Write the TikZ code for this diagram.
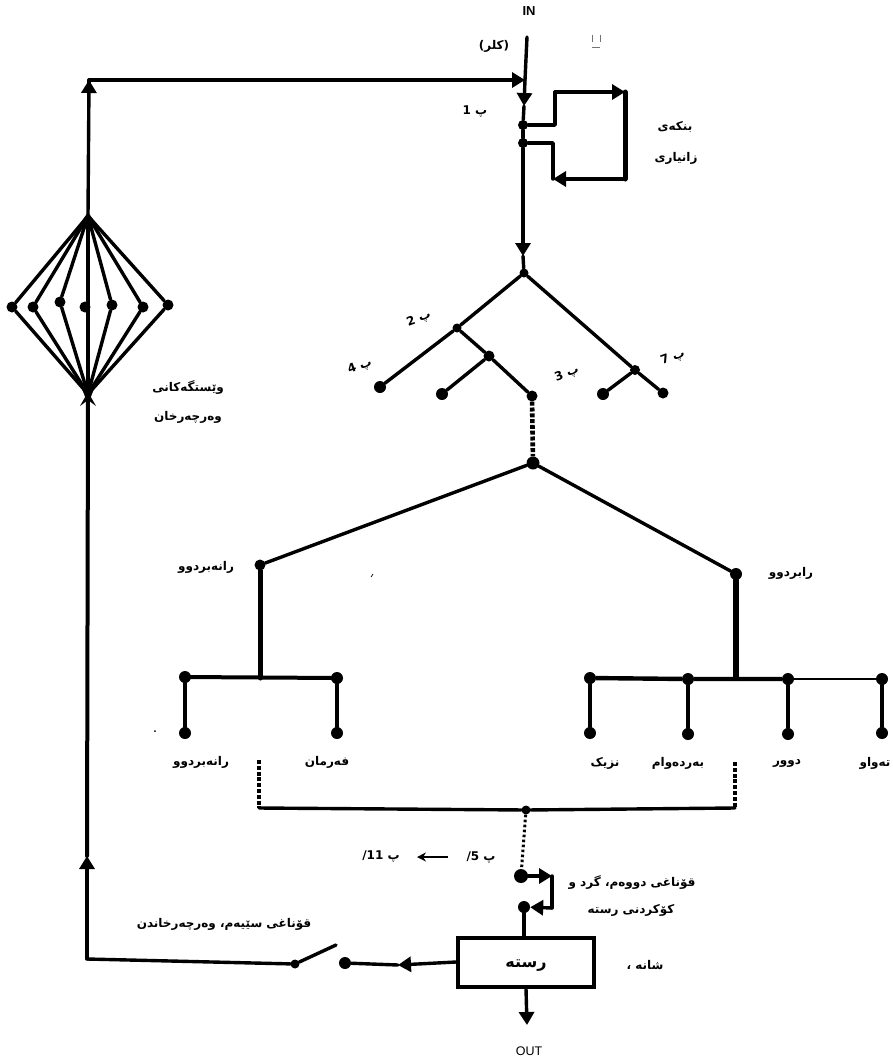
\documentclass[tikz,border=0pt]{standalone}
\usepackage{fontspec}
\usetikzlibrary{arrows.meta}
\TeXXeTstate=1
\newfontfamily\arabicfont[Script=Arabic]{DejaVu Sans Bold}
\setmainfont{Liberation Sans}
\newcommand{\ku}[1]{{\arabicfont\beginR #1\endR}}
\tikzset{
  x=1pt,y=-1pt,
  wire/.style={draw=black,line width=3.4pt,line cap=round,line join=round},
  thin wire/.style={draw=black,line width=2.6pt,line cap=round,line join=round},
  heavy wire/.style={draw=black,line width=5pt,line cap=round,line join=round},
  branch/.style={draw=black,line width=4pt,line cap=round,line join=round},
  dashline/.style={draw=black,line width=4.6pt,dash pattern=on 4pt off 1.8pt},
  dotline/.style={draw=black,line width=3pt,dash pattern=on 2.6pt off 2.4pt},
  head/.style={-{Triangle[width=15pt,length=13pt]}},
  lab/.style={inner sep=0pt,font=\fontsize{12}{14}\selectfont,text=black},
  dotn/.style={circle,fill=black,draw=none,minimum size=#1,inner sep=0pt},
  dotn/.default=12pt,
  speck/.style={draw=black!55,line width=.7pt}
}
\begin{document}
\begin{tikzpicture}
\useasboundingbox (0,0) rectangle (893,1061);
% ---- input trunk
\coordinate (intop) at (527,37);
\coordinate (join) at (525,80);
\coordinate (a1) at (524,106);
\node[dotn=10pt] (d1) at (523,125) {};
\node[dotn=10pt] (d2) at (523,143) {};
\coordinate (a2) at (523,256);
\node[dotn=9pt] (apex) at (524,273) {};
\draw[wire] (intop) -- (join);
\draw[wire,head] (join) -- (a1);
\draw[wire] (a1) -- (d1);
\draw[wire] (d2) -- (d1);
\draw[wire,head] (d2) -- (a2);
\draw[wire] (a2) -- (apex);
% ---- bank loop
\coordinate (l1) at (555,125);
\coordinate (l2) at (555,92);
\coordinate (l3) at (625,92);
\coordinate (l4) at (625,179);
\coordinate (l5) at (553,179);
\coordinate (l6) at (553,143);
\draw[wire] (d1) -- (l1) -- (l2);
\draw[wire,head] (l2) -- (l3);
\draw[heavy wire] (l3) -- (l4);
\draw[wire,head] (l4) -- (l5);
\draw[wire] (l5) -- (l6) -- (d2);
% ---- first tree
\node[dotn=9pt] (t2) at (457,328) {};
\node[dotn=12pt] (t4) at (380,387) {};
\node[dotn=11pt] (t3) at (489,356) {};
\node[dotn=12pt] (t5) at (442,394) {};
\node[dotn=11pt] (t6) at (532,396) {};
\node[dotn=10pt] (t7) at (635,370) {};
\node[dotn=12pt] (t8) at (603,394) {};
\node[dotn=11pt] (t9) at (663,393) {};
\draw[wire] (apex) -- (t2) -- (t4);
\draw[wire] (t2) -- (t3) -- (t6);
\draw[wire] (t3) -- (t5);
\draw[wire] (apex) -- (t7) -- (t9);
\draw[wire] (t7) -- (t8);
\node[dotn=13pt] (mid) at (533,463) {};
\draw[dashline] (t6) -- (mid);
% ---- second tree
\node[dotn=11pt] (nonpast) at (260,565) {};
\node[dotn=12pt] (past) at (736,574) {};
\coordinate (nb) at (260,678);
\coordinate (pb) at (736,678);
\draw[wire] (mid) -- (nonpast);
\draw[wire] (mid) -- (past);
\draw[heavy wire] (nonpast) -- (nb);
\draw[line width=6pt,line cap=round] (past) -- (pb);
\node[dotn=12pt] (n1t) at (185,677) {};
\node[dotn=12pt] (n2t) at (337,678) {};
\node[dotn=12pt] (n1b) at (185,733) {};
\node[dotn=12pt] (n2b) at (337,733) {};
\draw[branch] (n1t) -- (n2t);
\draw[branch] (n1t) -- (n1b);
\draw[branch] (n2t) -- (n2b);
\node[dotn=12pt] (p1t) at (590,678) {};
\node[dotn=12pt] (p2t) at (688,679) {};
\node[dotn=12pt] (p3t) at (788,679) {};
\node[dotn=12pt] (p4t) at (882,679) {};
\node[dotn=12pt] (p1b) at (590,733) {};
\node[dotn=12pt] (p2b) at (688,734) {};
\node[dotn=12pt] (p3b) at (788,734) {};
\node[dotn=12pt] (p4b) at (882,733) {};
\draw[line width=4.4pt] (p1t) -- (p2t) -- (p3t);
\draw[thin wire] (p3t) -- (p4t);
\draw[branch] (p1t) -- (p1b);
\draw[branch] (p2t) -- (p2b);
\draw[branch] (p3t) -- (p3b);
\draw[branch] (p4t) -- (p4b);
% ---- collector
\coordinate (cl) at (259,808);
\coordinate (cr) at (735,808);
\coordinate (clt) at (259,760);
\coordinate (crt) at (735,762);
\node[dotn=9pt] (cj) at (526,810) {};
\draw[dashline] (clt) -- (cl);
\draw[dashline] (crt) -- (cr);
\draw[wire] (cl) -- (cj) -- (cr);
\node[dotn=14pt] (s2a) at (521,876) {};
\node[dotn=12pt] (s2b) at (524,907) {};
\draw[dotline] (cj) -- (s2a);
\coordinate (s1) at (552,876);
\coordinate (s3) at (552,908);
\draw[wire,head] (s2a) -- (s1);
\draw[wire] (s1) -- (s3);
\draw[wire,head] (s3) -- (s2b);
% ---- sentence box
\node[draw=black,line width=4pt,minimum width=136pt,minimum height=49pt,inner sep=0pt,text height=12pt,text depth=2pt] (box) at (526,962) {\fontsize{16}{18}\selectfont\ku{رستە}};
\draw[wire] (s2b) -- (box.north -| s2b);
\coordinate (outtip) at (527,1025);
\draw[wire,head] (box.south) -- (outtip);
\node[dotn=12pt] (swr) at (345,963) {};
\coordinate (boxarrow) at (398,965);
\draw[wire,head] (box.west) -- (boxarrow);
\draw[wire] (boxarrow) -- (swr);
% ---- switch and return
\node[dotn=9pt] (swl) at (295,964) {};
\coordinate (blade) at (336,945);
\draw[wire] (swl) -- (blade);
\coordinate (cor) at (87,959);
\coordinate (upa) at (87,856);
\coordinate (bot) at (88,394);
\coordinate (top) at (88,216);
\coordinate (retop) at (89,80);
\draw[wire] (swl) -- (cor);
\draw[wire,head] (cor) -- (upa);
\draw[wire,line width=4pt] (upa) -- (bot);
\draw[wire,head] (top) -- (retop);
\draw[wire] (retop) ++(0,12) -- (retop);
\draw[wire,head] (retop) -- (join);
% ---- diamond
\node[dotn=11pt] (k1) at (12,307) {};
\node[dotn=11pt] (k2) at (33,307) {};
\node[dotn=11pt] (k3) at (60,302) {};
\node[dotn=11pt] (k4) at (85,307) {};
\node[dotn=11pt] (k5) at (112,305) {};
\node[dotn=11pt] (k6) at (143,307) {};
\node[dotn=11pt] (k7) at (168,305) {};
\foreach \k in {k1,k2,k3,k5,k6,k7}{\draw[wire] (top) -- (\k) -- (bot);}
\draw[wire] (top) -- (bot);
\fill (bot) ++(-8,-10) -- (88,404) -- (96,384) -- cycle;
\fill (80,406) -- (88,392) -- (96,406) -- (88,400) -- cycle;
\fill (top) ++(-8,8) -- (88,212) -- (96,224) -- cycle;
% ---- labels
\node[lab,font=\fontsize{13}{15}\selectfont\bfseries] (lin) at (529,11) {IN};
\node[lab,font=\fontsize{12.5}{15}\selectfont] (lout) at (529,1051) {OUT};
\node[lab] (lc) at (494,46) {\ku{(کلر)}};
\node[lab] (lp1) at (475,112) {\ku{پ 1}};
\node[lab] (lb1) at (675,127) {\ku{بنکەی}};
\node[lab] (lb2) at (676,158) {\ku{زانیاری}};
\node[lab] (lw1) at (188,387) {\ku{وێستگەکانی}};
\node[lab] (lw2) at (188,417) {\ku{وەرچەرخان}};
\node[lab,rotate=20] (lr2) at (419,319) {\ku{پ 2}};
\node[lab,rotate=20] (lr4) at (360,367) {\ku{پ 4}};
\node[lab,rotate=20] (lr3) at (567,374) {\ku{پ 3}};
\node[lab,rotate=20] (lr7) at (673,358) {\ku{پ 7}};
\node[lab] (lnp) at (206,567) {\ku{رانەبردوو}};
\node[lab] (lpa) at (791,573) {\ku{رابردوو}};
\node[lab] (ln1) at (201,762) {\ku{رانەبردوو}};
\node[lab] (ln2) at (327,762) {\ku{فەرمان}};
\node[lab] (lp1b) at (605,763) {\ku{نزیک}};
\node[lab] (lp2b) at (678,763) {\ku{بەردەوام}};
\node[lab] (lp3b) at (787,763) {\ku{دوور}};
\node[lab] (lp4b) at (875,763) {\ku{تەواو}};
\node[lab] (lp5) at (481,858) {\ku{پ 5/}};
\node[lab] (lp11) at (381,857) {\ku{پ 11/}};
\coordinate (ar1) at (448,857);
\coordinate (ar2) at (417,857);
\draw[line width=1.8pt,-{Stealth[width=9pt,length=9pt]}] (ar1) -- (ar2);
\node[lab] (ls2a) at (632,882) {\ku{قۆناغی دووەم، گرد و}};
\node[lab] (ls2b) at (631,910) {\ku{کۆکردنی رستە}};
\node[lab] (lsh) at (645,965) {\ku{شانە ،}};
\node[lab] (ls3) at (224,924) {\ku{قۆناغی سێیەم، وەرچەرخاندن}};
% ---- specks of the scan
\draw[speck] (592,35) -- (592,42) (600,35) -- (600,42) (592,47) -- (600,47);
\draw[speck,draw=black] (371,577) -- (373,574);
\fill (155,731) circle (1pt);
\end{tikzpicture}
\end{document}
